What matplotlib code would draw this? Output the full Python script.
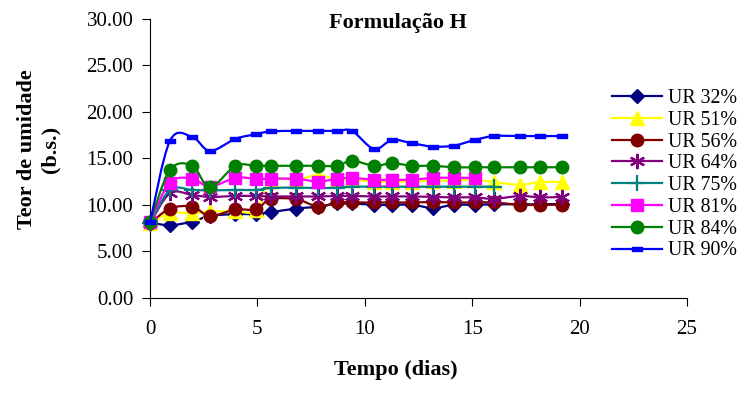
import matplotlib
matplotlib.use("Agg")
import matplotlib.pyplot as plt
import numpy as np
from matplotlib.path import Path
from matplotlib.patches import PathPatch
from matplotlib.lines import Line2D
from matplotlib.ticker import FormatStrFormatter

plt.rcParams['font.family'] = ['Liberation Serif', 'DejaVu Serif']

# sampling times (days)
tempo = [0, 0.93, 1.97, 2.79, 3.98, 4.93, 5.61, 6.82, 7.83, 8.71, 9.41,
         10.43, 11.27, 12.22, 13.18, 14.15, 15.12, 16.01, 17.24, 18.14, 19.18]

ur32 = [8.1, 7.8, 8.2, 8.8, 9.0, 9.0, 9.2, 9.6, 9.8, 10.15, 10.15,
        10.0, 10.0, 10.0, 9.65, 10.0, 10.0, 10.05, 10.05, 10.05, 10.1]
ur51 = [8.0, 9.1, 9.1, 9.3, 9.3, 9.4, 12.6, 12.7, 13.2, 12.7, 12.7,
        12.5, 12.5, 12.5, 12.6, 12.6, 12.7, 12.45, 12.15, 12.45, 12.45]
ur56 = [8.0, 9.6, 9.8, 8.8, 9.5, 9.5, 10.6, 10.6, 9.8, 10.25, 10.25,
        10.25, 10.25, 10.25, 10.3, 10.25, 10.25, 10.25, 10.0, 10.0, 10.0]
ur64 = [8.0, 11.25, 11.05, 10.85, 10.95, 10.95, 10.9, 10.9, 10.9, 10.95, 10.95,
        10.9, 10.9, 10.9, 10.85, 10.8, 10.8, 10.65, 10.95, 10.8, 10.85]
ur75 = [8.0, 11.6, 11.6, 11.55, 11.6, 11.6, 11.8, 11.85, 11.8, 11.85, 11.95,
        11.95, 11.95, 11.95, 11.95, 11.95, 11.95, 11.95]
ur81 = [8.1, 12.4, 12.8, 11.95, 12.9, 12.8, 12.8, 12.8, 12.5, 12.8, 12.9,
        12.7, 12.7, 12.7, 12.9, 12.9, 12.9]
ur84 = [8.1, 13.75, 14.2, 11.9, 14.2, 14.2, 14.2, 14.2, 14.2, 14.2, 14.75,
        14.2, 14.47, 14.2, 14.2, 14.04, 14.04, 14.04, 14.04, 14.04, 14.04]
ur90 = [8.1, 16.9, 17.3, 15.8, 17.1, 17.6, 17.9, 17.95, 17.95, 17.95, 17.95,
        16.0, 16.98, 16.62, 16.26, 16.37, 16.98, 17.4, 17.4, 17.4, 17.4]

labels = ["UR 32%", "UR 51%", "UR 56%", "UR 64%", "UR 75%", "UR 81%", "UR 84%", "UR 90%"]
series = [ur32, ur51, ur56, ur64, ur75, ur81, ur84, ur90]

# dash marker for the last series
dash = Path([(-1, -0.4), (1, -0.4), (1, 0.4), (-1, 0.4), (-1, -0.4)],
            [Path.MOVETO, Path.LINETO, Path.LINETO, Path.LINETO, Path.CLOSEPOLY])

styles = [
    dict(color="#000080", marker="D", ms=7.5),
    dict(color="#FFFF00", marker="^", ms=9.5),
    dict(color="#800000", marker="o", ms=9),
    dict(color="#800080", marker=(6, 2, 0), ms=11, mew=1.6),
    dict(color="#008080", marker="+", ms=11, mew=1.6),
    dict(color="#FF00FF", marker="s", ms=8.5),
    dict(color="#008000", marker="o", ms=9),
    dict(color="#0000FF", marker=dash, ms=6.5),
]


def smooth_path(x, y):
    # cubic bezier through the points, like spreadsheet smoothed lines
    p = np.column_stack([x, y]).astype(float)
    n = len(p)
    verts = [p[0]]
    codes = [Path.MOVETO]
    for i in range(n - 1):
        p0 = p[i - 1] if i > 0 else p[i]
        p3 = p[i + 2] if i + 2 < n else p[i + 1]
        c1 = p[i] + (p[i + 1] - p0) / 6.0
        c2 = p[i + 1] - (p3 - p[i]) / 6.0
        verts += [c1, c2, p[i + 1]]
        codes += [Path.CURVE4] * 3
    return Path(verts, codes)


fig = plt.figure(figsize=(7.48, 3.94), dpi=100)
ax = fig.add_axes([150 / 748, 1 - 297.7 / 394, 537 / 748, 278.7 / 394])

handles = []
for k, (vals, st) in enumerate(zip(series, styles)):
    t = tempo[:len(vals)]
    ax.add_patch(PathPatch(smooth_path(t, vals), facecolor="none",
                           edgecolor=st["color"], lw=1.6, zorder=2 + k))
    ax.plot(t, vals, linestyle="none", marker=st["marker"], ms=st["ms"],
            color=st["color"], mec=st["color"], mew=st.get("mew", 1.0),
            zorder=2 + k, clip_on=False)
    handles.append(Line2D([], [], color=st["color"], lw=1.6, marker=st["marker"],
                          ms=st["ms"], mec=st["color"], mew=st.get("mew", 1.0)))

ax.set_xlim(0, 25)
ax.set_ylim(0, 30)
ax.set_xticks(range(0, 26, 5))
ax.set_yticks(range(0, 31, 5))
ax.yaxis.set_major_formatter(FormatStrFormatter("%.2f"))
ax.tick_params(labelsize=15, direction="out", length=6, width=0.8)
ax.tick_params(axis="x", pad=10)
ax.tick_params(axis="y", pad=6)
for s in ["top", "right"]:
    ax.spines[s].set_visible(False)
for s in ["left", "bottom"]:
    ax.spines[s].set_linewidth(0.8)

fig.text(398 / 748, 1 - 23 / 394, "Formulação H", ha="center", va="center",
         fontsize=16, fontweight="bold")
fig.text(396 / 748, 1 - 370 / 394, "Tempo (dias)", ha="center", va="center",
         fontsize=16, fontweight="bold")
fig.text(39 / 748, 1 - 149 / 394, "Teor de umidade\n(b.s.)", ha="center", va="center",
         rotation=90, fontsize=16, fontweight="bold", linespacing=1.25)

fig.legend(handles, labels, loc="upper left", bbox_to_anchor=(612 / 748, 1 - 89 / 394),
           frameon=False, fontsize=14.3, handlelength=2.5, handletextpad=0.3,
           labelspacing=0.14, borderpad=0, borderaxespad=0)

fig.savefig("out.png", dpi=100)
